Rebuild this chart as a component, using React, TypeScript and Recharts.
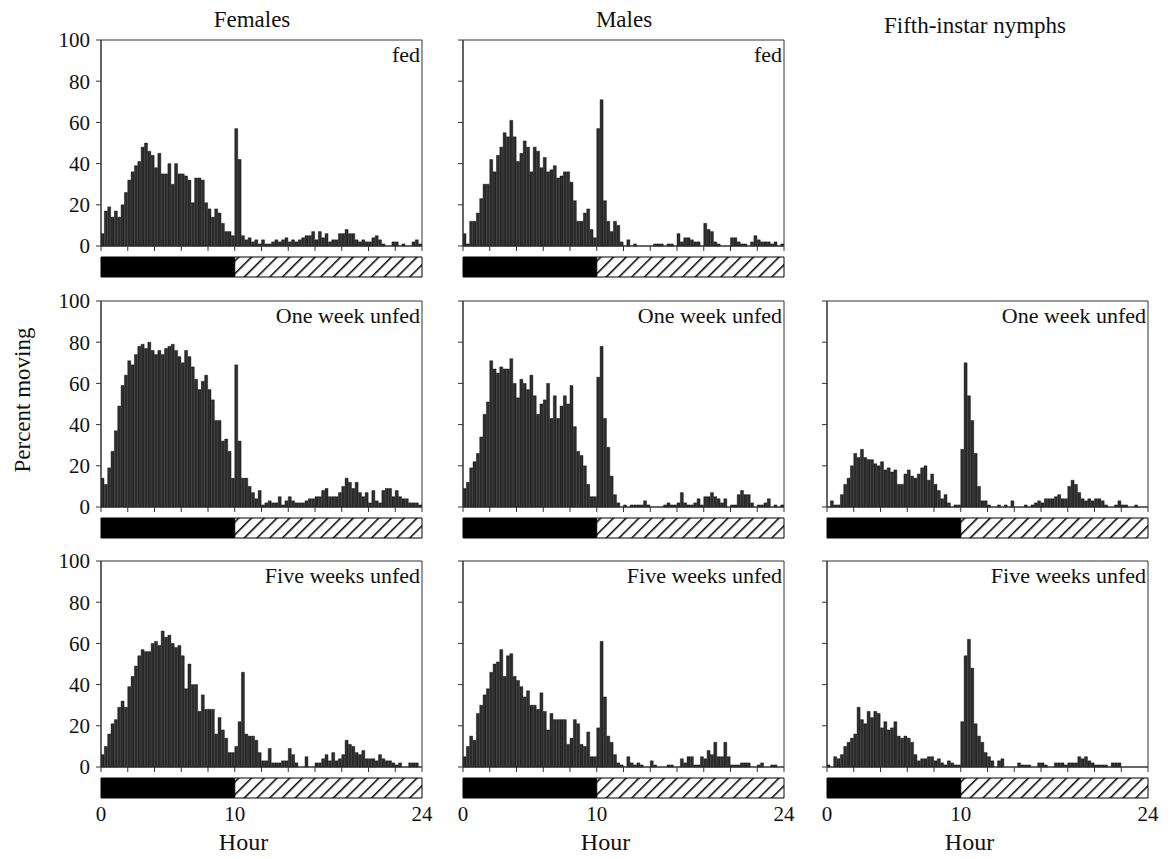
import React from 'react';
import { BarChart, Bar, XAxis, YAxis, ReferenceArea } from 'recharts';

// percent of animals moving in each 15-min bin, hour 0 to 24 (96 bins)
const femalesFed = [
  6, 17, 19, 14, 17, 14, 20, 26, 32, 36, 39, 41,
  48, 50, 46, 44, 38, 45, 35, 35, 40, 30, 40, 35,
  35, 34, 32, 21, 33, 33, 32, 21, 18, 14, 18, 16,
  11, 7, 7, 5, 57, 42, 5, 3, 4, 2, 3, 1,
  3, 1, 1, 2, 3, 2, 3, 4, 2, 3, 2, 3,
  4, 5, 5, 7, 3, 7, 4, 6, 2, 3, 3, 6,
  6, 8, 6, 6, 3, 2, 3, 2, 2, 4, 5, 3,
  1, 0, 0, 2, 2, 0, 1, 0, 0, 2, 3, 1,
];
const malesFed = [
  6, 1, 12, 12, 16, 23, 30, 30, 42, 36, 44, 48,
  55, 53, 61, 53, 41, 45, 51, 48, 36, 48, 46, 38,
  43, 36, 37, 39, 33, 34, 36, 36, 31, 22, 12, 12,
  16, 18, 8, 4, 57, 71, 22, 12, 7, 12, 10, 2,
  0, 3, 0, 1, 0, 0, 0, 0, 0, 1, 1, 1,
  0, 1, 1, 0, 6, 2, 4, 4, 3, 2, 2, 0,
  11, 8, 7, 2, 1, 0, 0, 0, 4, 4, 2, 1,
  1, 0, 2, 5, 3, 2, 2, 2, 1, 2, 0, 1,
];
const femalesWeek1 = [
  14, 11, 19, 27, 37, 49, 59, 64, 71, 69, 74, 78,
  79, 77, 80, 76, 74, 76, 74, 77, 78, 79, 76, 73,
  70, 76, 73, 68, 62, 57, 61, 64, 57, 52, 42, 42,
  32, 33, 27, 14, 69, 32, 14, 14, 10, 7, 4, 8,
  1, 2, 3, 2, 2, 5, 1, 3, 5, 3, 2, 2,
  2, 3, 4, 4, 5, 5, 8, 9, 5, 5, 5, 7,
  10, 14, 12, 9, 12, 7, 5, 7, 2, 8, 3, 2,
  8, 9, 9, 5, 8, 5, 4, 4, 2, 2, 2, 1,
];
const malesWeek1 = [
  9, 12, 19, 22, 26, 34, 45, 51, 71, 67, 65, 68,
  67, 67, 72, 60, 53, 62, 60, 57, 64, 54, 45, 50,
  52, 60, 43, 54, 43, 49, 54, 50, 59, 39, 27, 25,
  20, 11, 5, 5, 63, 78, 43, 29, 15, 6, 2, 0,
  1, 0, 1, 1, 1, 1, 3, 1, 0, 0, 0, 0,
  1, 2, 1, 1, 2, 7, 2, 1, 1, 2, 4, 1,
  5, 5, 7, 5, 4, 2, 4, 0, 1, 1, 6, 8,
  6, 6, 2, 0, 1, 1, 2, 4, 0, 1, 0, 1,
];
const nymphsWeek1 = [
  0, 3, 1, 1, 6, 11, 14, 20, 26, 24, 28, 24,
  23, 23, 21, 20, 22, 18, 19, 17, 18, 11, 11, 16,
  18, 15, 14, 16, 19, 20, 13, 16, 11, 8, 4, 6,
  2, 0, 1, 1, 28, 70, 54, 42, 26, 10, 3, 3,
  1, 0, 0, 1, 0, 1, 0, 3, 0, 0, 0, 1,
  0, 1, 2, 3, 2, 4, 4, 4, 5, 6, 4, 4,
  10, 13, 11, 7, 4, 3, 4, 3, 4, 4, 3, 1,
  0, 0, 1, 3, 1, 1, 0, 0, 1, 0, 0, 0,
];
const femalesWeek5 = [
  6, 10, 16, 21, 23, 29, 32, 29, 39, 44, 49, 54,
  57, 56, 56, 60, 61, 59, 66, 63, 64, 60, 58, 59,
  54, 38, 50, 40, 40, 27, 35, 28, 28, 28, 16, 24,
  18, 14, 7, 7, 10, 22, 46, 16, 15, 15, 13, 7,
  3, 3, 9, 2, 2, 2, 3, 3, 9, 6, 2, 0,
  0, 5, 0, 0, 2, 2, 4, 6, 3, 7, 3, 4,
  6, 13, 11, 10, 7, 6, 8, 4, 4, 4, 3, 6,
  4, 3, 3, 2, 1, 2, 0, 0, 2, 2, 2, 0,
];
const malesWeek5 = [
  5, 10, 15, 13, 26, 30, 35, 38, 46, 50, 51, 57,
  44, 54, 55, 44, 42, 39, 34, 37, 30, 30, 28, 36,
  27, 18, 26, 23, 23, 23, 23, 11, 14, 23, 21, 11,
  10, 17, 5, 5, 19, 61, 34, 15, 12, 6, 2, 1,
  0, 5, 2, 1, 2, 1, 0, 0, 3, 1, 0, 0,
  0, 1, 1, 0, 0, 4, 2, 5, 5, 1, 1, 5,
  4, 8, 6, 12, 5, 5, 12, 5, 1, 1, 1, 2,
  2, 2, 0, 0, 1, 2, 0, 0, 1, 1, 0, 0,
];
const nymphsWeek5 = [
  1, 0, 5, 4, 6, 10, 12, 14, 16, 29, 23, 21,
  27, 24, 27, 26, 19, 22, 18, 19, 22, 15, 14, 15,
  14, 12, 6, 3, 4, 4, 5, 5, 3, 4, 2, 1,
  3, 2, 1, 1, 22, 54, 62, 48, 21, 15, 12, 7,
  5, 3, 0, 3, 4, 0, 0, 0, 0, 2, 1, 1,
  1, 0, 0, 2, 2, 1, 0, 0, 2, 2, 2, 1,
  2, 2, 2, 5, 4, 5, 3, 2, 1, 1, 1, 1,
  0, 2, 2, 2, 0, 0, 0, 0, 0, 0, 0, 0,
];

const hourTicks = [0, 2, 4, 6, 8, 10, 12, 14, 16, 18, 20, 22, 24];
const hourLabels = [0, 10, 24];
const percentTicks = [0, 20, 40, 60, 80, 100];
const columnTitles = ['Females', 'Males', 'Fifth-instar nymphs'];
const lightCycle = [{ phase: 'LD', dark: 10, light: 14 }];

const panels = [
  { col: 0, row: 0, label: 'fed', values: femalesFed },
  { col: 1, row: 0, label: 'fed', values: malesFed },
  { col: 0, row: 1, label: 'One week unfed', values: femalesWeek1 },
  { col: 1, row: 1, label: 'One week unfed', values: malesWeek1 },
  { col: 2, row: 1, label: 'One week unfed', values: nymphsWeek1 },
  { col: 0, row: 2, label: 'Five weeks unfed', values: femalesWeek5 },
  { col: 1, row: 2, label: 'Five weeks unfed', values: malesWeek5 },
  { col: 2, row: 2, label: 'Five weeks unfed', values: nymphsWeek5 },
];

const FONT = '"Liberation Serif", "Times New Roman", serif';
const INK = '#111';
const AXIS = '#333';
const PLOT_W = 321;
const PLOT_H = 206;
const PAD = 14; // room round the plot so tick labels are not clipped
const COL_X = [101, 463, 827];
const ROW_Y = [40, 301, 561];
const TITLE_X = [252, 624, 975];
const TITLE_Y = [8, 8, 14];

// bin centres in hours (15-min bins)
const toBins = (values: number[]) =>
  values.map((pct, i) => ({ hour: (i + 0.5) / 4, pct }));

function Histogram({ col, row, label, values }: { col: number; row: number; label: string; values: number[] }) {
  const showY = col === 0;
  return (
    <>
      <div style={{ position: 'absolute', left: COL_X[col] - 60, top: ROW_Y[row] - PAD }}>
        <BarChart
          width={PLOT_W + 70}
          height={PLOT_H + 2 * PAD}
          data={toBins(values)}
          margin={{ top: PAD, right: 10, left: 0, bottom: 0 }}
          barCategoryGap={0}
        >
          <XAxis
            dataKey="hour"
            type="number"
            domain={[0, 24]}
            ticks={hourTicks}
            interval={0}
            allowDataOverflow
            height={PAD}
            tickSize={5}
            tickFormatter={() => ''}
            stroke={AXIS}
          />
          <YAxis
            type="number"
            domain={[0, 100]}
            ticks={percentTicks}
            interval={0}
            width={60}
            tickSize={5}
            tickMargin={6}
            stroke={AXIS}
            tickFormatter={(v: number) => (showY ? String(v) : '')}
            tick={{ fontSize: 21, fill: INK, fontFamily: FONT }}
          />
          <ReferenceArea x1={0} x2={24} y1={0} y2={100} fill="none" stroke={AXIS} strokeWidth={1} ifOverflow="visible" />
          <Bar dataKey="pct" fill="#2e2e2e" stroke="#000" strokeWidth={0.4} isAnimationActive={false} />
        </BarChart>
      </div>
      <div
        style={{
          position: 'absolute',
          right: 1173 - (COL_X[col] + PLOT_W) + 2,
          top: ROW_Y[row] + 4,
          fontFamily: FONT,
          fontSize: 22,
          lineHeight: 1,
          color: INK,
          whiteSpace: 'nowrap',
        }}
      >
        {label}
      </div>
    </>
  );
}

function LightStrip({ col, row }: { col: number; row: number }) {
  const showHours = row === 2;
  const id = `hatch-${col}-${row}`;
  return (
    <div style={{ position: 'absolute', left: COL_X[col] - 15, top: ROW_Y[row] + PLOT_H + 10 }}>
      <BarChart
        layout="vertical"
        width={PLOT_W + 30}
        height={showHours ? 54 : 22}
        data={lightCycle}
        margin={{ top: 1, right: 15, left: 15, bottom: 1 }}
        barCategoryGap={0}
      >
        <defs>
          <pattern id={id} patternUnits="userSpaceOnUse" width={9} height={9} patternTransform="rotate(45)">
            <rect x={0} y={0} width={9} height={9} fill="#fff" />
            <rect x={0} y={0} width={1.5} height={9} fill="#000" />
          </pattern>
        </defs>
        <XAxis
          type="number"
          domain={[0, 24]}
          ticks={hourLabels}
          interval={0}
          hide={!showHours}
          height={32}
          axisLine={false}
          tickLine={false}
          tick={{ fontSize: 21, fill: INK, fontFamily: FONT }}
        />
        <YAxis type="category" dataKey="phase" hide />
        <Bar dataKey="dark" stackId="ld" fill="#000" stroke="#000" isAnimationActive={false} />
        <Bar dataKey="light" stackId="ld" fill={`url(#${id})`} stroke="#000" isAnimationActive={false} />
      </BarChart>
    </div>
  );
}

export default function App() {
  return (
    <div style={{ position: 'absolute', left: 0, top: 0, width: 1173, height: 859, background: '#fff', fontFamily: FONT }}>
      <style>{`.recharts-text, .recharts-text tspan { font-family: "Liberation Serif", "Times New Roman", serif !important; }`}</style>
      {columnTitles.map((t, i) => (
        <div
          key={t}
          style={{
            position: 'absolute',
            left: TITLE_X[i],
            top: TITLE_Y[i],
            transform: 'translateX(-50%)',
            fontSize: 23,
            lineHeight: 1,
            color: INK,
            whiteSpace: 'nowrap',
          }}
        >
          {t}
        </div>
      ))}
      <div
        style={{
          position: 'absolute',
          left: 22,
          top: 400,
          transform: 'translate(-50%, -50%) rotate(-90deg)',
          fontSize: 23,
          lineHeight: 1,
          color: INK,
          whiteSpace: 'nowrap',
        }}
      >
        Percent moving
      </div>
      {panels.map((p) => (
        <React.Fragment key={`${p.col}-${p.row}`}>
          <Histogram {...p} />
          <LightStrip col={p.col} row={p.row} />
        </React.Fragment>
      ))}
      {COL_X.map((x) => (
        <div
          key={x}
          style={{
            position: 'absolute',
            left: x + PLOT_W / 2 - 18,
            top: 830,
            transform: 'translateX(-50%)',
            fontSize: 24,
            lineHeight: 1,
            color: INK,
          }}
        >
          Hour
        </div>
      ))}
    </div>
  );
}
